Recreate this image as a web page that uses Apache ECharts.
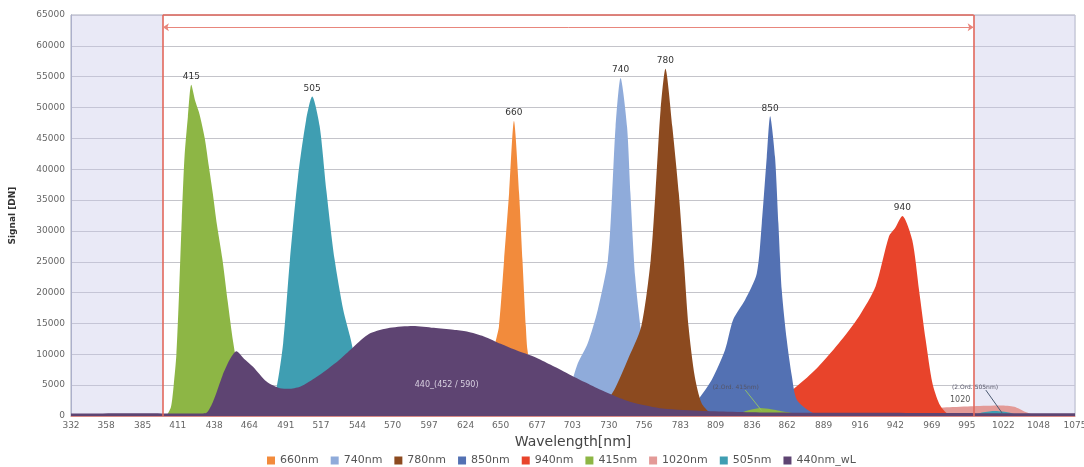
<!DOCTYPE html>
<html>
<head>
<meta charset="utf-8">
<script src="https://cdn.jsdelivr.net/npm/echarts@6/dist/echarts.min.js"></script>
<style>
html,body{margin:0;padding:0;background:#fff;}
#chart{width:1084px;height:467px;}
</style>
</head>
<body>
<div id="chart"></div>
<script>
// ---- data (wavelength nm, signal DN) ----
const xTickLabels = [332,358,385,411,438,464,491,517,544,570,597,624,650,677,703,730,756,783,809,836,862,889,916,942,969,995,1022,1048,1075];
const legendOrder = ['660nm','740nm','780nm','850nm','940nm','415nm','1020nm','505nm','440nm_wL'];

const s660 = [[626,0],[634,800],[640,4000],[646,11800],[648.7,14500],[652.5,25300],[656.2,36100],[659.8,47800],[663.6,36100],[666.1,25300],[668.6,14500],[669.8,10700],[675,4000],[682,1000],[690,0]];
const s740 = [[678,0],[690,1500],[700,4000],[707,8500],[714.4,11800],[721.8,17200],[729.3,25300],[732.5,36100],[735,46900],[738.7,54800],[743.5,46900],[746,36100],[749.5,22600],[755,12000],[762,5000],[775,1500],[790,0]];
const s780 = [[710,0],[715,300],[725,1500],[734,4200],[744,9100],[754,14500],[761,25300],[764.5,36100],[768.3,49600],[771.9,56300],[777,46900],[781.8,36100],[785.5,25300],[789,14500],[793.6,6400],[798.6,2100],[805,500],[812,0]];
const s850 = [[770,0],[785,600],[793.6,2000],[806,5800],[816,10700],[822,15600],[830.8,18800],[839.5,23100],[843.2,31200],[846.9,42000],[849.4,48600],[853,42000],[855.5,31200],[858,20400],[861.7,12300],[865.5,6400],[869.2,2600],[880,600],[890,0]];
const s940 = [[820,0],[830,300],[845.6,1500],[865.5,4200],[882.8,7500],[900.2,11800],[915,16100],[927.4,21000],[937.3,29100],[942,30500],[947.2,32400],[954.6,28500],[959.6,20400],[964.5,12300],[969.5,5300],[974.5,2000],[980,500],[988,0]];
const s415 = [[400,0],[403,200],[406,1500],[408,5000],[410,10000],[412,20000],[414,32000],[416,42000],[418.5,48500],[421,53700],[424,51000],[427,49000],[431,45000],[434,40500],[437,36000],[440,31000],[444,25500],[448,18500],[452,12000],[456,7000],[460,4000],[466,2000],[475,800],[490,300],[520,0],[810,0],[825,400],[835,1000],[842,1300],[850,1100],[860,700],[872,300],[885,0]];
const s1020 = [[930,0],[945,300],[960,900],[980,1400],[1000,1600],[1020,1700],[1030,1500],[1038,700],[1045,150],[1050,0]];
const s505 = [[470,0],[478,600],[484,4500],[489,11800],[494,25300],[500,38800],[506,48000],[510.5,51800],[516,47000],[521,36500],[527,25500],[533.5,17200],[538.5,12900],[545,7000],[555,3000],[570,1000],[590,300],[610,0],[995,0],[1005,500],[1015,800],[1025,600],[1035,0]];
const s440 = [[332,400],[380,450],[425,400],[432,500],[436,1800],[439.5,3700],[444,6500],[449.4,9100],[454.4,10500],[460,9300],[466.7,8000],[476.7,5600],[486.5,4500],[493,4400],[501.4,4750],[510,5800],[520,7300],[530,9000],[538.6,10700],[545,12000],[553.4,13400],[568,14300],[585,14600],[600.5,14300],[615,14000],[625,13700],[637.6,12900],[650,11700],[662,10600],[674.7,9600],[687,8300],[699.5,6900],[712,5500],[724.3,4200],[737,3000],[749,2100],[770,1200],[800,800],[850,550],[950,500],[1075,450]];

const colors = {
  '660nm':'#f28b3c','740nm':'#8fabda','780nm':'#8c4a1f','850nm':'#5371b3','940nm':'#e8442b',
  '415nm':'#8db645','1020nm':'#e39a97','505nm':'#3f9eb2','440nm_wL':'#5e4472'
};

const FONT = 'DejaVu Sans';

function peakMark(){
  return {
    symbol:'rect', symbolSize:1, itemStyle:{color:'rgba(0,0,0,0)'},
    label:{show:true, position:'top', distance:3, color:'#333', fontSize:9, fontFamily:FONT,
      formatter:p=>p.seriesName.replace('nm','')},
    data:[{type:'max', valueDim:'y'}]
  };
}
function area(name, data, extra){
  return Object.assign({
    name, type:'line', data, showSymbol:false, symbol:'none', smooth:0.25,
    lineStyle:{width:0}, itemStyle:{color:colors[name]},
    areaStyle:{color:colors[name], opacity:1}, silent:true
  }, extra||{});
}

const series = [
  area('1020nm', s1020, {
    z:1,
    markArea:{silent:true, itemStyle:{color:'rgba(200,200,232,0.4)'},
      data:[[{xAxis:332},{xAxis:400}],[{xAxis:1000},{xAxis:1075}]]},
    markPoint:{symbol:'rect', symbolSize:1, itemStyle:{color:'rgba(0,0,0,0)'},
      label:{show:true, color:'#555', fontSize:8, fontFamily:FONT, formatter:'1020'},
      data:[{coord:[990,2600]}]}
  }),
  area('940nm', s940, {markPoint:peakMark()}),
  area('850nm', s850, {markPoint:peakMark()}),
  area('660nm', s660, {markPoint:peakMark()}),
  area('740nm', s740, {markPoint:peakMark()}),
  area('780nm', s780, {markPoint:peakMark()}),
  area('415nm', s415, {
    markPoint:{symbol:'rect', symbolSize:1, itemStyle:{color:'rgba(0,0,0,0)'},
      label:{show:true, position:'top', distance:3, color:'#333', fontSize:9, fontFamily:FONT},
      data:[{type:'max', valueDim:'y', label:{formatter:'415'}},
            {coord:[824,4700], label:{formatter:'(2.Ord. 415nm)', fontSize:6, color:'#556', position:'inside'}}]},
    markLine:{silent:true, symbol:['none','none'], lineStyle:{color:'#8fbf6a', width:1, type:'solid'}, label:{show:false},
      data:[[{coord:[831,4200]},{coord:[843,900]}]]}
  }),
  area('505nm', s505, {
    markPoint:{symbol:'rect', symbolSize:1, itemStyle:{color:'rgba(0,0,0,0)'},
      label:{show:true, position:'top', distance:3, color:'#333', fontSize:9, fontFamily:FONT},
      data:[{type:'max', valueDim:'y', label:{formatter:'505'}},
            {coord:[1001,4700], label:{formatter:'(2.Ord. 505nm)', fontSize:6, color:'#556', position:'inside'}}]},
    markLine:{silent:true, symbol:['none','none'], lineStyle:{color:'#4b5a72', width:1, type:'solid'}, label:{show:false},
      data:[[{coord:[1009,4200]},{coord:[1021,500]}]]}
  }),
  area('440nm_wL', s440, {
    z:4,
    markPoint:{symbol:'rect', symbolSize:1, itemStyle:{color:'rgba(0,0,0,0)'},
      label:{show:true, position:'inside', color:'#d8d0e0', fontSize:8, fontFamily:FONT, formatter:'440_(452 / 590)'},
      data:[{coord:[610,5000]}]},
    markLine:{silent:true, label:{show:false}, lineStyle:{color:'#e2685c', width:1.6, type:'solid'},
      symbol:['none','none'],
      data:[
        [{coord:[400,0]},{coord:[400,65000]}],
        [{coord:[1000,0]},{coord:[1000,65000]}],
        [{coord:[400,65000]},{coord:[1000,65000]}],
        [{coord:[400,63000], symbol:'arrow', symbolSize:6, lineStyle:{width:1, color:'#e8867c'}},
         {coord:[1000,63000], symbol:'arrow', symbolSize:6}]
      ]}
  })
];

const chart = echarts.init(document.getElementById('chart'), null, {renderer:'canvas'});
chart.setOption({
  animation:false,
  backgroundColor:'#fff',
  grid:{left:71, right:9, top:15, bottom:51, show:true, borderColor:'#a9adbd', borderWidth:1,
    containLabel:false, outerBoundsMode:'none'},
  legend:{
    data:legendOrder, top:450, left:262, icon:'rect', itemWidth:8, itemHeight:8, itemGap:12,
    textStyle:{fontSize:11, color:'#555', fontFamily:FONT}
  },
  xAxis:{
    type:'value', min:332, max:1075,
    axisLine:{show:true, onZero:false, lineStyle:{color:'#d98a86'}},
    axisTick:{show:false}, splitLine:{show:false},
    axisLabel:{customValues:xTickLabels, color:'#666', fontSize:9, fontFamily:FONT, margin:5,
      showMinLabel:true, showMaxLabel:true, formatter:v=>String(Math.round(v))},
    name:'Wavelength[nm]', nameLocation:'middle', nameGap:18,
    nameTextStyle:{fontSize:14, color:'#444', fontFamily:FONT}
  },
  yAxis:{
    type:'value', min:0, max:65000, interval:5000,
    axisLine:{show:true, lineStyle:{color:'#9aa1b8'}},
    axisTick:{show:false},
    splitLine:{lineStyle:{color:'#c4c4ca'}},
    axisLabel:{color:'#666', fontSize:9, fontFamily:FONT, margin:6, formatter:v=>String(v)},
    name:'Signal [DN]', nameLocation:'middle', nameGap:54, nameRotate:90,
    nameTextStyle:{fontSize:9, fontWeight:'bold', color:'#333', fontFamily:FONT}
  },
  series
});
</script>
</body>
</html>
